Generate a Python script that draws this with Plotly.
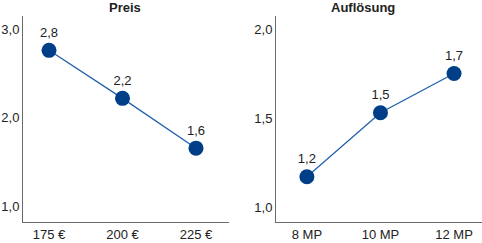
import plotly.graph_objects as go

# Data
price_categories = ["175 €", "200 €", "225 €"]
price_values = [2.76, 2.22, 1.66]
price_labels = ["2,8", "2,2", "1,6"]
price_ticks = [1.0, 2.0, 3.0]
price_ticktext = ["1,0", "2,0", "3,0"]

res_categories = ["8 MP", "10 MP", "12 MP"]
res_values = [1.17, 1.53, 1.75]
res_labels = ["1,2", "1,5", "1,7"]
res_ticks = [1.0, 1.5, 2.0]
res_ticktext = ["1,0", "1,5", "2,0"]

titles = ["Preis", "Auflösung"]

W, H = 482, 243
FONT = "Liberation Sans, Arial, Helvetica, sans-serif"
LINE_COLOR = "#2160ad"
MARKER_COLOR = "#003e87"
TEXT_COLOR = "#222222"
AXIS_COLOR = "#6a6a6a"

fig = go.Figure()

fig.add_trace(go.Scatter(
    x=price_categories, y=price_values, text=price_labels,
    mode="lines+markers+text", textposition="top center",
    textfont=dict(family=FONT, size=13, color=TEXT_COLOR),
    line=dict(color=LINE_COLOR, width=1.3),
    marker=dict(color=MARKER_COLOR, size=15),
    xaxis="x", yaxis="y", showlegend=False, hoverinfo="skip",
))
fig.add_trace(go.Scatter(
    x=res_categories, y=res_values, text=res_labels,
    mode="lines+markers+text", textposition="top center",
    textfont=dict(family=FONT, size=13, color=TEXT_COLOR),
    line=dict(color=LINE_COLOR, width=1.3),
    marker=dict(color=MARKER_COLOR, size=15),
    xaxis="x2", yaxis="y2", showlegend=False, hoverinfo="skip",
))

def px_x(p):
    return p / W

def px_y(p):
    return 1 - p / H

ydom = [px_y(222), px_y(16)]

common_x = dict(
    type="category", showgrid=False, zeroline=False, showline=True,
    linecolor=AXIS_COLOR, linewidth=1, ticks="", fixedrange=True, automargin=False,
    tickfont=dict(family=FONT, size=13, color=TEXT_COLOR),
)
common_y = dict(
    showgrid=False, zeroline=False, showline=True,
    linecolor=AXIS_COLOR, linewidth=1, ticks="", fixedrange=True, automargin=False,
    tickfont=dict(family=FONT, size=13, color=TEXT_COLOR),
)

fig.update_layout(
    width=W, height=H,
    margin=dict(l=0, r=0, t=0, b=0, autoexpand=False),
    paper_bgcolor="white", plot_bgcolor="white",
    xaxis=dict(common_x, domain=[px_x(23), px_x(229)], range=[-0.354, 2.449],
               anchor="y", categoryorder="array", categoryarray=price_categories),
    yaxis=dict(common_y, domain=ydom, range=[0.83, 3.146], anchor="x",
               tickvals=price_ticks, ticktext=price_ticktext),
    xaxis2=dict(common_x, domain=[px_x(276), 1.0], range=[-0.42, 2.38],
                anchor="y2", categoryorder="array", categoryarray=res_categories),
    yaxis2=dict(common_y, domain=ydom, range=[0.916, 2.073], anchor="x2",
                tickvals=res_ticks, ticktext=res_ticktext),
    annotations=[
        dict(text="<b>%s</b>" % titles[0], x=px_x(125), y=px_y(7.5), xref="paper", yref="paper",
             showarrow=False, xanchor="center", yanchor="middle",
             font=dict(family=FONT, size=13, color=TEXT_COLOR)),
        dict(text="<b>%s</b>" % titles[1], x=px_x(363), y=px_y(7.5), xref="paper", yref="paper",
             showarrow=False, xanchor="center", yanchor="middle",
             font=dict(family=FONT, size=13, color=TEXT_COLOR)),
    ],
)

fig.write_html(
    "out.html",
    config={"displayModeBar": False},
    post_script="document.body.style.margin='0';document.body.style.padding='0';document.body.style.overflow='hidden';",
)
